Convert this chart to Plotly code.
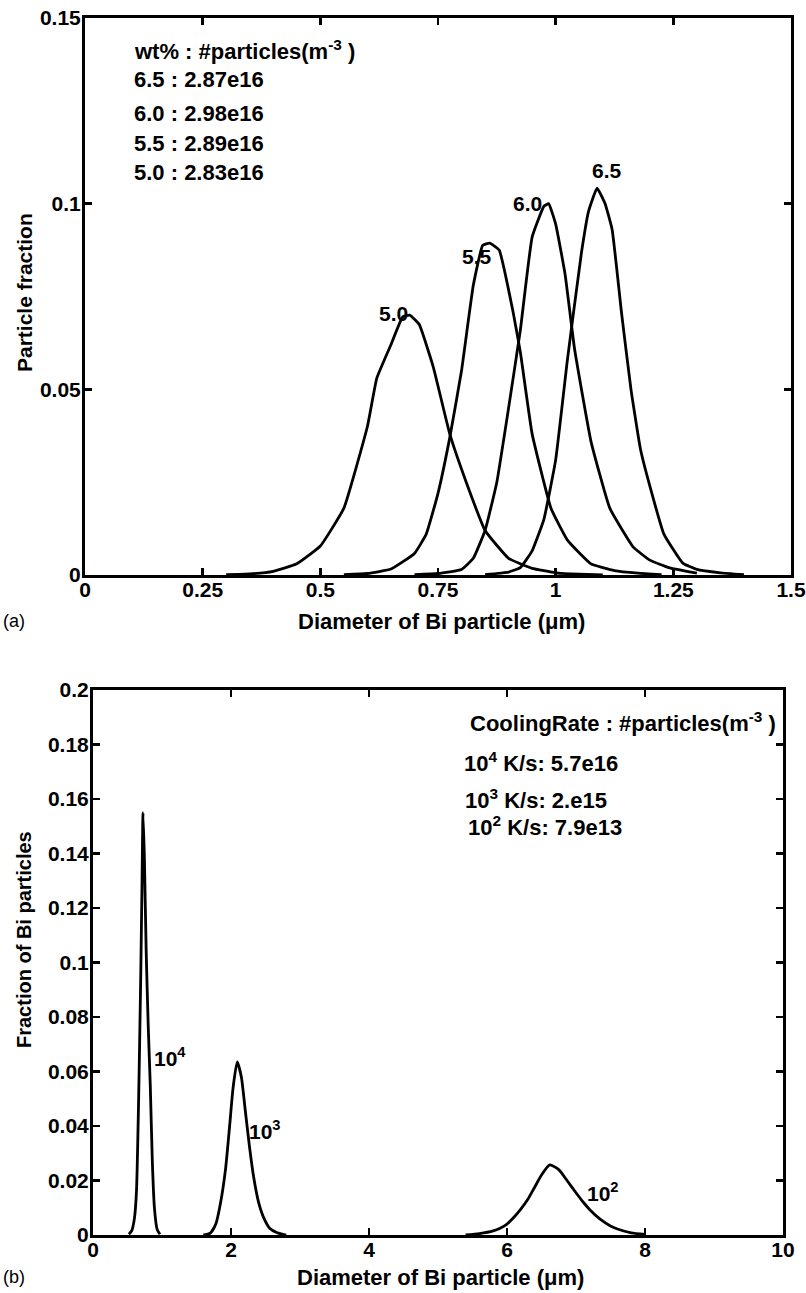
import plotly.graph_objects as go

# ---------------- data: panel (a) ----------------
wt_labels = ["5.0", "5.5", "6.0", "6.5"]
x_50 = [0.30, 0.35, 0.40, 0.45, 0.50, 0.55, 0.60, 0.62, 0.65, 0.675, 0.69, 0.71, 0.74, 0.775, 0.81, 0.85, 0.90, 0.95, 1.00, 1.05, 1.10]
y_50 = [0.0001, 0.0003, 0.001, 0.003, 0.0078, 0.018, 0.040, 0.053, 0.062, 0.0695, 0.070, 0.0675, 0.056, 0.038, 0.025, 0.012, 0.0045, 0.0018, 0.0006, 0.0002, 0.0]
x_55 = [0.55, 0.60, 0.65, 0.70, 0.725, 0.75, 0.775, 0.80, 0.825, 0.845, 0.86, 0.88, 0.91, 0.925, 0.95, 0.99, 1.025, 1.075, 1.125, 1.175, 1.225]
y_55 = [0.0001, 0.0004, 0.0016, 0.0058, 0.011, 0.022, 0.037, 0.055, 0.078, 0.0888, 0.0894, 0.0875, 0.0705, 0.060, 0.038, 0.018, 0.0094, 0.003, 0.0012, 0.0005, 0.0001]
x_60 = [0.70, 0.75, 0.80, 0.825, 0.85, 0.875, 0.90, 0.925, 0.95, 0.975, 0.985, 1.00, 1.02, 1.04, 1.075, 1.115, 1.165, 1.20, 1.24, 1.30]
y_60 = [0.0001, 0.0004, 0.0015, 0.0045, 0.012, 0.025, 0.045, 0.066, 0.091, 0.0993, 0.100, 0.0945, 0.081, 0.061, 0.036, 0.018, 0.0075, 0.004, 0.002, 0.0005]
x_65 = [0.85, 0.90, 0.925, 0.95, 0.975, 1.00, 1.025, 1.055, 1.07, 1.088, 1.105, 1.12, 1.14, 1.16, 1.18, 1.20, 1.23, 1.27, 1.30, 1.35, 1.40]
y_65 = [0.0001, 0.0008, 0.002, 0.0065, 0.015, 0.031, 0.058, 0.087, 0.098, 0.1042, 0.100, 0.093, 0.0705, 0.050, 0.034, 0.024, 0.011, 0.0032, 0.0015, 0.0006, 0.0001]
wt_counts = ["2.87e16", "2.98e16", "2.89e16", "2.83e16"]
wt_legend = ["6.5", "6.0", "5.5", "5.0"]
a_xticks = [0, 0.25, 0.5, 0.75, 1, 1.25, 1.5]
a_xticktext = ["0", "0.25", "0.5", "0.75", "1", "1.25", "1.5"]
a_yticks = [0, 0.05, 0.1, 0.15]
a_yticktext = ["0", "0.05", "0.1", "0.15"]

# ---------------- data: panel (b) ----------------
x_r4 = [0.52, 0.56, 0.60, 0.63, 0.66, 0.69, 0.71, 0.725, 0.745, 0.77, 0.80, 0.83, 0.86, 0.89, 0.93, 0.97]
y_r4 = [0.0003, 0.0015, 0.006, 0.016, 0.048, 0.092, 0.128, 0.155, 0.138, 0.105, 0.077, 0.055, 0.027, 0.010, 0.002, 0.0003]
x_r3 = [1.60, 1.70, 1.78, 1.85, 1.92, 1.98, 2.03, 2.09, 2.15, 2.21, 2.27, 2.33, 2.40, 2.48, 2.56, 2.67, 2.80]
y_r3 = [0.0, 0.0007, 0.004, 0.012, 0.024, 0.040, 0.054, 0.0635, 0.058, 0.045, 0.032, 0.021, 0.012, 0.006, 0.0025, 0.0008, 0.0]
x_r2 = [5.4, 5.6, 5.8, 5.9, 6.0, 6.1, 6.2, 6.3, 6.4, 6.5, 6.62, 6.75, 6.87, 7.0, 7.1, 7.2, 7.35, 7.5, 7.6, 7.8, 8.0]
y_r2 = [0.0, 0.0005, 0.0015, 0.0025, 0.004, 0.0065, 0.0095, 0.013, 0.0175, 0.022, 0.0257, 0.024, 0.020, 0.0155, 0.0122, 0.0093, 0.0058, 0.0033, 0.0022, 0.0008, 0.0002]
rate_exp = ["4", "3", "2"]
rate_counts = ["5.7e16", "2.e15", "7.9e13"]
b_xticks = [0, 2, 4, 6, 8, 10]
b_yticks = [0, 0.02, 0.04, 0.06, 0.08, 0.1, 0.12, 0.14, 0.16, 0.18, 0.2]
b_yticktext = ["0", "0.02", "0.04", "0.06", "0.08", "0.1", "0.12", "0.14", "0.16", "0.18", "0.2"]

W, H = 806, 1293
FONT = "Liberation Sans"

def px_x(p):
    return p / W

def px_y(p):
    return 1 - p / H

fig = go.Figure()
for xs, ys in [(x_50, y_50), (x_55, y_55), (x_60, y_60), (x_65, y_65)]:
    fig.add_trace(go.Scatter(x=xs, y=ys, mode="lines",
                             line=dict(color="black", width=2.8, shape="spline", smoothing=0.35),
                             xaxis="x", yaxis="y", showlegend=False, hoverinfo="skip"))
for xs, ys in [(x_r4, y_r4), (x_r3, y_r3), (x_r2, y_r2)]:
    fig.add_trace(go.Scatter(x=xs, y=ys, mode="lines",
                             line=dict(color="black", width=2.8, shape="spline", smoothing=0.6),
                             xaxis="x2", yaxis="y2", showlegend=False, hoverinfo="skip"))

axis_common = dict(showline=True, linecolor="black", linewidth=3, mirror="allticks", ticks="inside",
                   ticklen=7, tickwidth=2.5, tickcolor="black", showgrid=False, zeroline=False,
                   automargin=False,
                   tickfont=dict(family=FONT, size=21, color="black", weight="bold"))

fig.update_layout(
    width=W, height=H, autosize=False,
    margin=dict(l=0, r=0, t=0, b=0, pad=0),
    paper_bgcolor="white", plot_bgcolor="white",
    xaxis=dict(domain=[px_x(85), px_x(791)], range=[0, 1.5], tickmode="array", tickvals=a_xticks,
               ticktext=a_xticktext, anchor="y", ticklabelstandoff=-6, **axis_common),
    yaxis=dict(domain=[px_y(575), px_y(18)], range=[0, 0.15], tickmode="array", tickvals=a_yticks,
               ticktext=a_yticktext, anchor="x", ticklabelstandoff=-3, **axis_common),
    xaxis2=dict(domain=[px_x(93), px_x(783)], range=[0, 10], tickmode="array", tickvals=b_xticks,
                ticktext=[str(v) for v in b_xticks], anchor="y2", ticklabelstandoff=-6, **axis_common),
    yaxis2=dict(domain=[px_y(1235), px_y(690)], range=[0, 0.2], tickmode="array", tickvals=b_yticks,
                ticktext=b_yticktext, anchor="x2", ticklabelstandoff=-3, **axis_common),
)

ann = []
bold = dict(family=FONT, size=22, color="black", weight="bold")
lab_font = dict(family=FONT, size=21, color="black", weight="bold")

# panel (a) legend text
ann.append(dict(x=0.1, y=0.1414, xref="x", yref="y", text="wt% : #particles(m<sup>-3</sup> )",
                showarrow=False, xanchor="left", yanchor="middle", font=bold))
for i, (lab, cnt) in enumerate(zip(wt_legend, wt_counts)):
    yv = [0.1334, 0.1242, 0.1161, 0.1084][i]
    ann.append(dict(x=0.1, y=yv, xref="x", yref="y", text=f"{lab} : {cnt}", showarrow=False,
                    xanchor="left", yanchor="middle", font=bold))
# panel (a) curve labels
for lab, xv, yv in zip(wt_labels, [0.655, 0.832, 0.94, 1.109], [0.0705, 0.0857, 0.100, 0.109]):
    ann.append(dict(x=xv, y=yv, xref="x", yref="y", text=lab, showarrow=False,
                    xanchor="center", yanchor="middle", font=lab_font))

# panel (b) legend text
ann.append(dict(x=5.43, y=0.1883, xref="x2", yref="y2", text="CoolingRate : #particles(m<sup>-3</sup> )",
                showarrow=False, xanchor="left", yanchor="middle", font=bold))
for i, (e, cnt) in enumerate(zip(rate_exp, rate_counts)):
    xv = [5.35, 5.36, 5.41][i]
    yv = [0.1735, 0.1599, 0.150][i]
    ann.append(dict(x=xv, y=yv, xref="x2", yref="y2", text=f"10<sup>{e}</sup> K/s: {cnt}", showarrow=False,
                    xanchor="left", yanchor="middle", font=bold))
# panel (b) curve labels
for e, xv, yv in zip(rate_exp, [0.855, 2.23, 7.13], [0.0655, 0.0387, 0.0159]):
    ann.append(dict(x=xv, y=yv, xref="x2", yref="y2", text=f"10<sup>{e}</sup>", showarrow=False,
                    xanchor="left", yanchor="middle", font=lab_font))

# axis titles
ann.append(dict(x=px_x(441), y=px_y(621), xref="paper", yref="paper", text="Diameter of Bi particle (\u03bcm)",
                showarrow=False, xanchor="center", yanchor="middle", font=bold))
ann.append(dict(x=px_x(440), y=px_y(1277), xref="paper", yref="paper", text="Diameter of Bi particle (\u03bcm)",
                showarrow=False, xanchor="center", yanchor="middle", font=bold))
ann.append(dict(x=px_x(24), y=px_y(293), xref="paper", yref="paper", text="Particle fraction", textangle=-90,
                showarrow=False, xanchor="center", yanchor="middle", font=dict(family=FONT, size=21, color="black", weight="bold")))
ann.append(dict(x=px_x(24), y=px_y(940), xref="paper", yref="paper", text="Fraction of Bi particles", textangle=-90,
                showarrow=False, xanchor="center", yanchor="middle", font=dict(family=FONT, size=20, color="black", weight="bold")))
# panel letters
ann.append(dict(x=px_x(1), y=px_y(621), xref="paper", yref="paper", text="(a)", showarrow=False,
                xanchor="left", yanchor="middle", font=dict(family=FONT, size=18, color="black")))
ann.append(dict(x=px_x(1), y=px_y(1277), xref="paper", yref="paper", text="(b)", showarrow=False,
                xanchor="left", yanchor="middle", font=dict(family=FONT, size=18, color="black")))

fig.update_layout(annotations=ann, hovermode=False)
fig.write_html("out.html", config={"displayModeBar": False, "staticPlot": True},
               post_script="document.body.style.margin='0';document.body.style.padding='0';"
                           "document.documentElement.style.overflow='hidden';")
